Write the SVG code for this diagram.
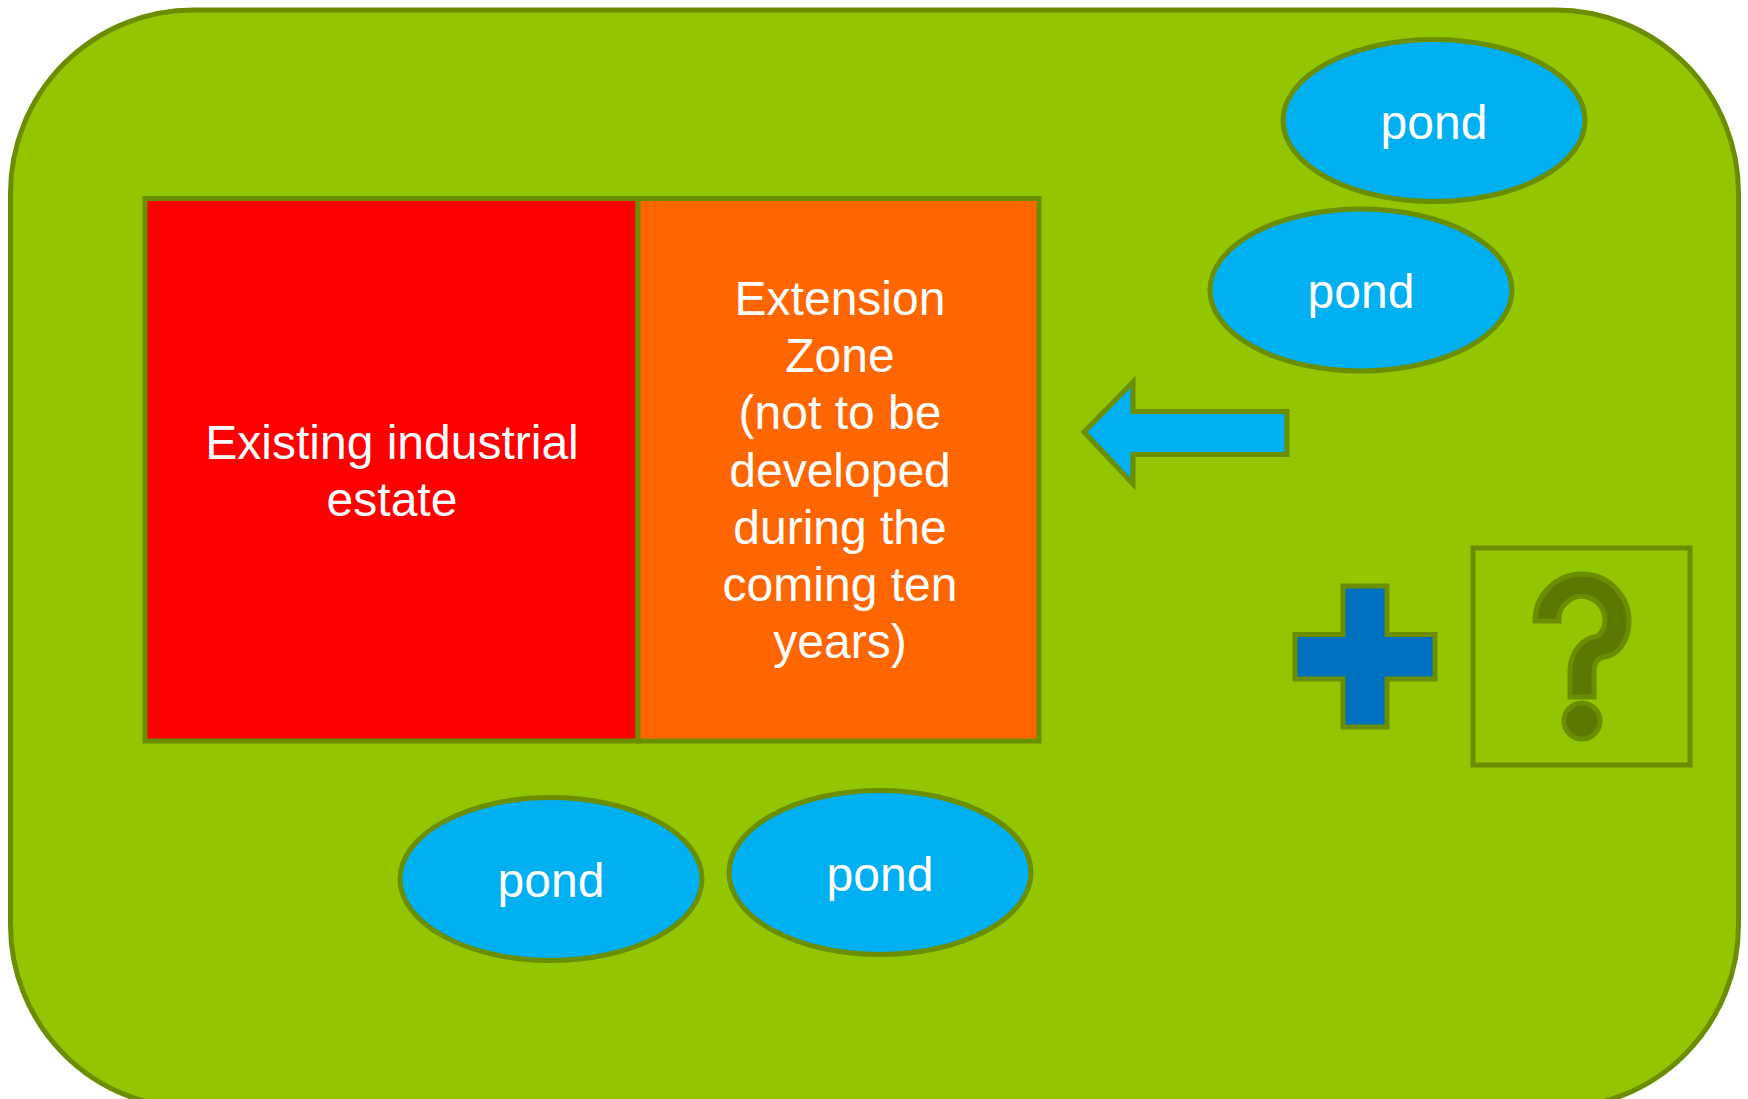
<svg xmlns="http://www.w3.org/2000/svg" width="1748" height="1099" viewBox="0 0 1748 1099">
  <style>
    .ol { stroke: #6B8E00; stroke-width: 5; stroke-linejoin: miter; }
    .pond { fill: #00B0F0; }
    .t { font-family: "Liberation Sans", Arial, sans-serif; font-size: 48px; fill: #FFFFFF; text-anchor: middle; }
  </style>
  <rect id="background" x="10.5" y="10" width="1728" height="1098" rx="183" ry="183" fill="#93C500" class="ol"/>

  <g id="existing">
    <rect x="145" y="198.5" width="493" height="542.5" fill="#FF0000" class="ol"/>
    <text class="t"><tspan x="392" y="459">Existing industrial</tspan><tspan x="392" y="516">estate</tspan></text>
  </g>

  <g id="extension">
    <rect x="638" y="198.5" width="401" height="542.5" fill="#FF6600" class="ol"/>
    <text class="t"><tspan x="840" y="315">Extension</tspan><tspan x="840" y="372">Zone</tspan><tspan x="840" y="429">(not to be</tspan><tspan x="840" y="486.5">developed</tspan><tspan x="840" y="544">during the</tspan><tspan x="840" y="601">coming ten</tspan><tspan x="840" y="658">years)</tspan></text>
  </g>

  <g id="pond1">
    <ellipse cx="1434" cy="120.5" rx="151" ry="81" class="pond ol"/>
    <text class="t" x="1434" y="139">pond</text>
  </g>
  <g id="pond2">
    <ellipse cx="1361" cy="290" rx="151" ry="81" class="pond ol"/>
    <text class="t" x="1361" y="308">pond</text>
  </g>
  <g id="pond3">
    <ellipse cx="551" cy="879" rx="151" ry="81.5" class="pond ol"/>
    <text class="t" x="551" y="897">pond</text>
  </g>
  <g id="pond4">
    <ellipse cx="880" cy="872.5" rx="151" ry="82" class="pond ol"/>
    <text class="t" x="880" y="891">pond</text>
  </g>

  <g id="connectors">
    <polygon id="arrow" points="1084,432 1133,382 1133,411.5 1287,411.5 1287,454.5 1133,454.5 1133,484" fill="#00B0F0" class="ol"/>
  </g>

  <g id="plus">
    <polygon points="1343,586 1387,586 1387,634.5 1435,634.5 1435,679 1387,679 1387,727 1343,727 1343,679 1295,679 1295,634.5 1343,634.5" fill="#0070C0" class="ol"/>
  </g>

  <g id="question">
    <rect x="1473" y="548" width="217" height="217" fill="none" class="ol"/>
    <path d="M 1535 621 A 47 47 0 0 1 1629 621 C 1629 642 1617 656 1604 657 C 1597 658 1594 664 1594 672 L 1594 697 L 1570 697 L 1570 672 C 1570 652 1582 638 1598 636 A 23 23 0 1 0 1559 621 Z" fill="#5B7800" class="ol" stroke-linejoin="round"/>
    <circle cx="1582" cy="721" r="18" fill="#5B7800" class="ol"/>
  </g>
</svg>
